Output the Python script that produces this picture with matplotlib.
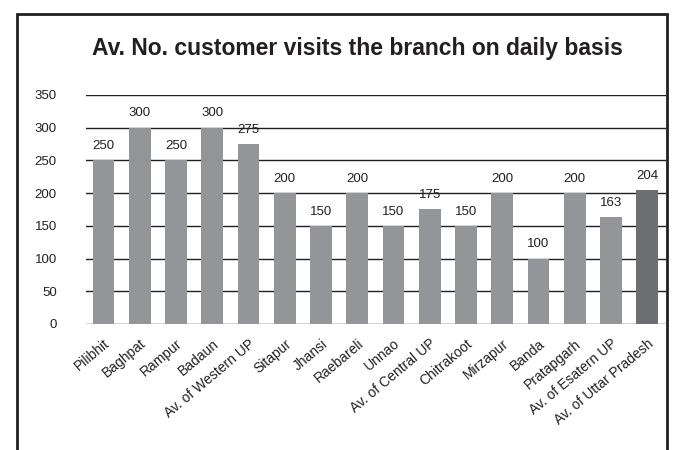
import matplotlib.pyplot as plt
from matplotlib.patches import Rectangle

plt.rcParams['font.family'] = ['Liberation Sans', 'DejaVu Sans']

districts = ['Pilibhit', 'Baghpat', 'Rampur', 'Badaun', 'Av. of Western UP',
             'Sitapur', 'Jhansi', 'Raebareli', 'Unnao', 'Av. of Central UP',
             'Chitrakoot', 'Mirzapur', 'Banda', 'Pratapgarh', 'Av. of Esatern UP',
             'Av. of Uttar Pradesh']
visits = [250, 300, 250, 300, 275, 200, 150, 200, 150, 175, 150, 200, 100, 200, 163, 204]
yticks = [0, 50, 100, 150, 200, 250, 300, 350]

fig = plt.figure(figsize=(6.83, 4.5), dpi=100)
ax = fig.add_axes([0.1259, 0.28, 0.849, 0.509])

colors = ['#939598'] * (len(visits) - 1) + ['#6d6e71']
x = list(range(len(visits)))
bars = ax.bar(x, visits, width=0.6, color=colors, zorder=3)

for xi, v in zip(x, visits):
    ax.annotate(str(v), (xi, v), xytext=(0, 6), textcoords='offset points',
                ha='center', va='bottom', fontsize=9.5, color='#231f20')

ax.set_ylim(0, 350)
ax.set_xlim(-0.48, len(visits) - 0.49)
ax.set_yticks(yticks)
ax.yaxis.grid(True, color='#231f20', linewidth=1.0, zorder=0)
ax.tick_params(axis='y', length=0, pad=21, labelsize=9.5, labelcolor='#231f20')
ax.tick_params(axis='x', length=0, pad=9, labelsize=10, labelcolor='#231f20')
ax.set_xticks(x)
ax.set_xticklabels(districts, rotation=40, ha='right', rotation_mode='anchor')
for s in ax.spines.values():
    s.set_visible(False)

fig.text(0.524, 0.893, 'Av. No. customer visits the branch on daily basis',
         ha='center', va='center', fontsize=16.5, fontweight='bold', color='#231f20')

# outer frame, open at the bottom edge
fig.patches.append(Rectangle((17 / 683, -0.1), 650 / 683, 1.1 - 14 / 450,
                             transform=fig.transFigure, fill=False,
                             edgecolor='#231f20', linewidth=2))

fig.savefig('out.png', dpi=100)
